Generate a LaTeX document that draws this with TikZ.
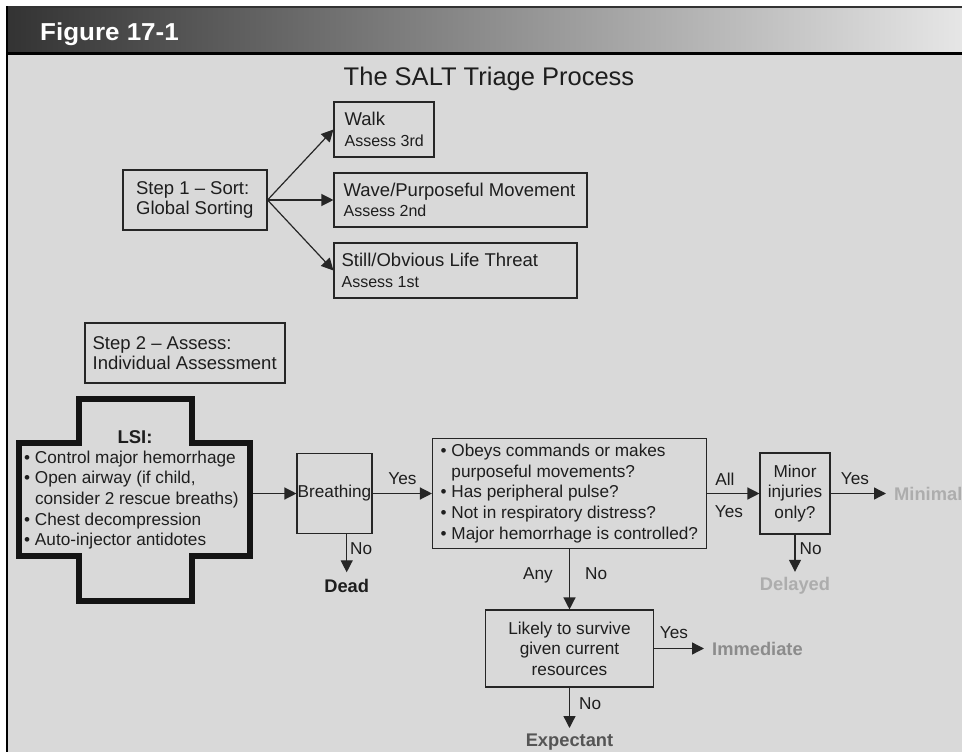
\documentclass[tikz,border=0pt]{standalone}
\usepackage{fontspec}
\usepackage{graphicx}
\setmainfont{Liberation Sans}
\usetikzlibrary{arrows.meta}

\newcommand{\fbody}{\fontsize{17.2}{20.6}\selectfont}
\newcommand{\fstep}{\fontsize{18.5}{20.6}\selectfont}
\newcommand{\fsub}{\fontsize{16}{19}\selectfont}
\newcommand{\fout}{\fontsize{18.3}{20}\selectfont\bfseries}

\definecolor{panel}{HTML}{D9D9D9}
\definecolor{hdrL}{HTML}{333333}
\definecolor{hdrR}{HTML}{E6E6E6}
\definecolor{txtc}{HTML}{1E1E1E}
\definecolor{linec}{HTML}{262626}
\definecolor{lightout}{HTML}{ADADAD}
\definecolor{midout}{HTML}{8C8C8C}
\definecolor{darkout}{HTML}{555555}

\begin{document}
\begin{tikzpicture}[x=1pt,y=-1pt,
  box/.style={draw=linec, line width=1.1pt, inner sep=0pt, text=txtc},
  txt/.style={inner sep=0pt, align=left, text=txtc, font=\fbody},
  lab/.style={inner sep=0pt, text=txtc, font=\fbody, text depth=0pt},
  outc/.style={inner sep=0pt, font=\fout, text depth=0pt},
  arr/.style={draw=linec, line width=1.3pt, -{Triangle[length=12pt,width=12pt]}}]

\useasboundingbox (0,0) rectangle (962,752);
\fill[white] (0,0) rectangle (962,752);

% frame and header band
\fill[panel] (7,53) rectangle (962,752);
\shade[left color=hdrL, right color=hdrR] (7,7) rectangle (962,53);
\draw[line width=1.5pt, draw=black!80] (6,7) -- (962,7);
\draw[line width=2.5pt, draw=black] (6,53.5) -- (962,53.5);
\draw[line width=2.5pt, draw=black] (7.2,6.3) -- (7.2,752);

\node[anchor=base west, inner sep=0pt, text=white,
      font=\fontsize{24.5}{28}\selectfont\bfseries] (figlabel) at (40,41) {\scalebox{1.06}[1]{Figure 17-1}};
\node[anchor=base, inner sep=0pt, text=txtc,
      font=\fontsize{25.5}{30}\selectfont] (title) at (489,85) {The SALT Triage Process};

% step 1: global sorting
\node[box, minimum width=144pt, minimum height=60pt] (sort) at (195,200) {};
\node[txt, font=\fstep, anchor=west] (sort-t) at ([xshift=13.5pt]sort.west) {Step 1 – Sort:\\Global Sorting};

\node[box, minimum width=100pt, minimum height=55pt] (walk) at (384,129.5) {};
\node[txt, font=\fstep, anchor=west] (walk-t) at ([xshift=11pt]walk.west) {Walk\\{\fsub Assess 3rd}};

\node[box, minimum width=253pt, minimum height=54pt] (wave) at (460.5,200) {};
\node[txt, font=\fstep, anchor=west] (wave-t) at ([xshift=10pt]wave.west) {Wave/Purposeful Movement\\{\fsub Assess 2nd}};

\node[box, minimum width=243pt, minimum height=55pt] (still) at (455.5,270.5) {};
\node[txt, font=\fstep, anchor=west] (still-t) at ([xshift=8pt]still.west) {Still/Obvious Life Threat\\{\fsub Assess 1st}};

\draw[arr, line width=1.2pt] (sort.east) -- (walk.west);
\draw[arr, line width=1.2pt] (sort.east) -- (wave.west);
\draw[arr, line width=1.2pt] (sort.east) -- (still.west);

% step 2: individual assessment
\node[box, minimum width=200pt, minimum height=60pt] (assess) at (185,353) {};
\node[txt, font=\fstep, anchor=west] (assess-t) at ([xshift=8pt]assess.west) {Step 2 – Assess:\\Individual Assessment};

% life-saving interventions cross
\draw[line width=6pt, draw=black!92, fill=panel, line join=miter]
  (79,399) -- (192,399) -- (192,443) -- (249.5,443) -- (249.5,556) -- (192,556)
  -- (192,601) -- (79,601) -- (79,556) -- (18.5,556) -- (18.5,443) -- (79,443) -- cycle;
\node[inner sep=0pt, text=txtc, font=\fstep\bfseries] (lsi-h) at (135,437) {LSI:};
\node[txt, anchor=west] (lsi-t) at (24,500)
  {\textbullet\ Control major hemorrhage\\
   \textbullet\ Open airway (if child,\\
   \phantom{\textbullet\ }consider 2 rescue breaths)\\
   \textbullet\ Chest decompression\\
   \textbullet\ Auto-injector antidotes};
\coordinate (lsi-e) at (252.5,493.5);

% decision boxes
\node[box, minimum width=75pt, minimum height=80pt, font=\fbody] (breath) at (334.5,493.5) {Breathing};

\node[box, minimum width=274pt, minimum height=110pt] (obeys) at (569.5,493.5) {};
\node[txt, anchor=west] (obeys-t) at ([xshift=8.5pt]obeys.west)
  {\textbullet\ Obeys commands or makes\\
   \phantom{\textbullet\ }purposeful movements?\\
   \textbullet\ Has peripheral pulse?\\
   \textbullet\ Not in respiratory distress?\\
   \textbullet\ Major hemorrhage is controlled?};

\node[box, minimum width=70pt, minimum height=81pt, font=\fbody, align=center] (minor) at (795,493.5) {Minor\\injuries\\only?};

\node[box, minimum width=168pt, minimum height=77pt, font=\fbody, align=center] (likely) at (569.5,648.5) {Likely to survive\\given current\\resources};

% outcomes
\node[outc, anchor=north, text=txtc] (dead) at (346.7,579.3) {Dead};
\node[outc, anchor=north, text=lightout] (delayed) at (795,577.3) {Delayed};
\node[outc, anchor=west, text=lightout] (minimal) at (894,493.5) {Minimal};
\node[outc, anchor=west, text=midout] (immediate) at (712,648.5) {Immediate};
\node[outc, anchor=north, text=darkout] (expectant) at (569.5,734) {Expectant};

% connectors
\draw[arr] (lsi-e) -- (breath.west);
\draw[arr] (breath.east) -- (obeys.west);
\draw[arr, shorten >=7pt] (breath.south -| dead.north) -- (dead.north);
\draw[arr] (obeys.east) -- (minor.west);
\draw[arr, shorten >=8pt] (minor.east) -- (minimal.west);
\draw[arr, shorten >=5.5pt] (minor.south) -- (delayed.north);
\draw[arr] (obeys.south) -- (likely.north);
\draw[arr, shorten >=8pt] (likely.east) -- (immediate.west);
\draw[arr, shorten >=6pt] (likely.south) -- (expectant.north);

% connector labels
\node[lab] (l-yes1) at (402.5,479) {Yes};
\node[lab, anchor=west] (l-no1) at (350,549) {No};
\node[lab] (l-all) at (725,479) {All};
\node[lab] (l-yes2) at (729,512) {Yes};
\node[lab] (l-yes3) at (855,479) {Yes};
\node[lab, anchor=west] (l-no2) at (799.5,549) {No};
\node[lab, anchor=east] (l-any) at (553,574) {Any};
\node[lab, anchor=west] (l-no3) at (585,574) {No};
\node[lab] (l-yes4) at (674,633) {Yes};
\node[lab, anchor=west] (l-no4) at (579,704) {No};
\end{tikzpicture}
\end{document}
